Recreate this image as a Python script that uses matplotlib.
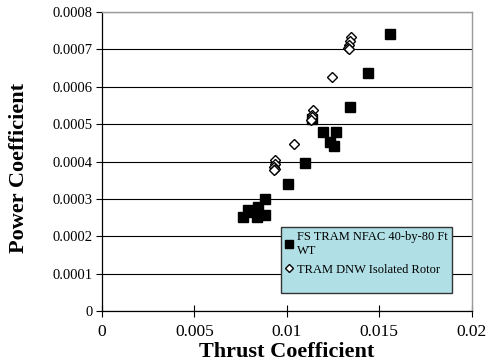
import matplotlib
matplotlib.use("Agg")
import matplotlib.pyplot as plt
from matplotlib.patches import Rectangle
from matplotlib.ticker import MultipleLocator, FuncFormatter

# FS TRAM in the NFAC 40-by-80 ft wind tunnel
nfac_ct = [0.01558, 0.01441, 0.01342, 0.01135, 0.01196, 0.01266, 0.01233, 0.01255,
           0.01098, 0.01005, 0.00882, 0.00846, 0.00792, 0.00765, 0.00882, 0.00837, 0.00810]
nfac_cp = [0.000742, 0.000636, 0.000546, 0.000513, 0.000479, 0.000479, 0.000453, 0.000441,
           0.000397, 0.000340, 0.000300, 0.000279, 0.000270, 0.000252, 0.000257, 0.000252, 0.000265]

# TRAM isolated rotor in the DNW
dnw_ct = [0.01345, 0.01340, 0.01337, 0.01333, 0.01336, 0.01246,
          0.01140, 0.01138, 0.01136, 0.01133, 0.01039,
          0.00935, 0.00937, 0.00933, 0.00935, 0.00932]
dnw_cp = [0.000733, 0.000722, 0.000712, 0.000705, 0.000700, 0.000626,
          0.000537, 0.000525, 0.000518, 0.000512, 0.000448,
          0.000403, 0.000392, 0.000386, 0.000381, 0.000378]

plt.rcParams['font.family'] = ['Liberation Serif', 'DejaVu Serif']

fig = plt.figure(figsize=(4.87, 3.64), dpi=100)
ax = fig.add_axes([0.2094, 0.1456, 0.7592, 0.8214])

ax.plot(nfac_ct, nfac_cp, linestyle='none', marker='s', markersize=7.5,
        color='black', label='FS TRAM NFAC 40-by-80 Ft\nWT', zorder=3)
ax.plot(dnw_ct, dnw_cp, linestyle='none', marker='D', markersize=5,
        markerfacecolor='white', markeredgecolor='black', markeredgewidth=1.0,
        label='TRAM DNW Isolated Rotor', zorder=4)

ax.set_xlim(0, 0.02)
ax.set_ylim(0, 0.0008)
ax.xaxis.set_major_locator(MultipleLocator(0.005))
ax.yaxis.set_major_locator(MultipleLocator(0.0001))
ax.xaxis.set_major_formatter(FuncFormatter(lambda v, p: f"{v:g}"))
ax.yaxis.set_major_formatter(FuncFormatter(lambda v, p: "0" if v == 0 else f"{v:.4f}"))

ax.yaxis.grid(True, color='black', linewidth=0.8)
ax.set_axisbelow(True)
ax.tick_params(axis='y', direction='out', length=4, width=0.8, labelsize=10.5, pad=3)
ax.tick_params(axis='x', direction='inout', length=8, width=0.8, labelsize=12.5, pad=5)

for side in ['left', 'bottom']:
    ax.spines[side].set_color('black')
    ax.spines[side].set_linewidth(0.9)
for side in ['top', 'right']:
    ax.spines[side].set_color('#9a9a9a')
    ax.spines[side].set_linewidth(1.0)

ax.set_xlabel('Thrust Coefficient', fontsize=16, fontweight='bold')
ax.set_ylabel('Power Coefficient', fontsize=16, fontweight='bold')
ax.xaxis.set_label_coords(0.5, -0.105)
ax.yaxis.set_label_coords(-0.198, 0.48)

# legend box drawn separately so its height can be set
box = Rectangle((0.484, 0.060), 0.462, 0.222, transform=ax.transAxes,
                facecolor='#b0e0e6', edgecolor='#333333', linewidth=1.0, zorder=5)
ax.add_patch(box)
leg = ax.legend(loc='upper left', bbox_to_anchor=(0.484, 0.282),
                borderaxespad=0, fontsize=9, handlelength=0.6,
                handletextpad=0.3, borderpad=0.35, labelspacing=0.55,
                frameon=False, markerscale=0.8)
leg.set_zorder(6)

fig.savefig('out.png', dpi=100)
